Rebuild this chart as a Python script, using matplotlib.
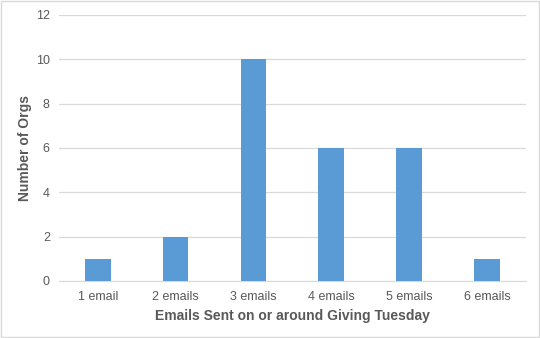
import matplotlib.pyplot as plt

# emails sent vs number of orgs
categories = ['1 email', '2 emails', '3 emails', '4 emails', '5 emails', '6 emails']
orgs = [1, 2, 10, 6, 6, 1]

plt.rcParams['font.family'] = ['Liberation Sans', 'DejaVu Sans']
text_color = '#595959'

fig = plt.figure(figsize=(5.4, 3.38), dpi=100)
ax = fig.add_axes([0.109, 0.169, 0.865, 0.787])

x = range(len(categories))
ax.bar(x, orgs, width=0.33, color='#5B9BD5', zorder=3)

ax.set_xlim(-0.5, len(categories) - 0.5)
ax.set_ylim(0, 12)
ax.set_yticks(range(0, 13, 2))
ax.set_xticks(list(x))
ax.set_xticklabels(categories)
ax.grid(axis='y', color='#D9D9D9', linewidth=0.9, zorder=0)

for side in ['top', 'right', 'left']:
    ax.spines[side].set_visible(False)
ax.spines['bottom'].set_color('#D9D9D9')
ax.tick_params(axis='both', length=0, labelsize=9, colors=text_color)
ax.tick_params(axis='x', pad=7.5)
ax.tick_params(axis='y', pad=6.5)

ax.set_xlabel('Emails Sent on or around Giving Tuesday', fontsize=10,
              fontweight='bold', color=text_color, labelpad=4)
ax.set_ylabel('Number of Orgs', fontsize=10, fontweight='bold', color=text_color, labelpad=3)

# thin border round the chart
fig.patches.append(plt.Rectangle((0.002, 0.003), 0.996, 0.994, transform=fig.transFigure,
                                 fill=False, edgecolor='#D9D9D9', linewidth=1))

fig.savefig('out.png', dpi=100)
